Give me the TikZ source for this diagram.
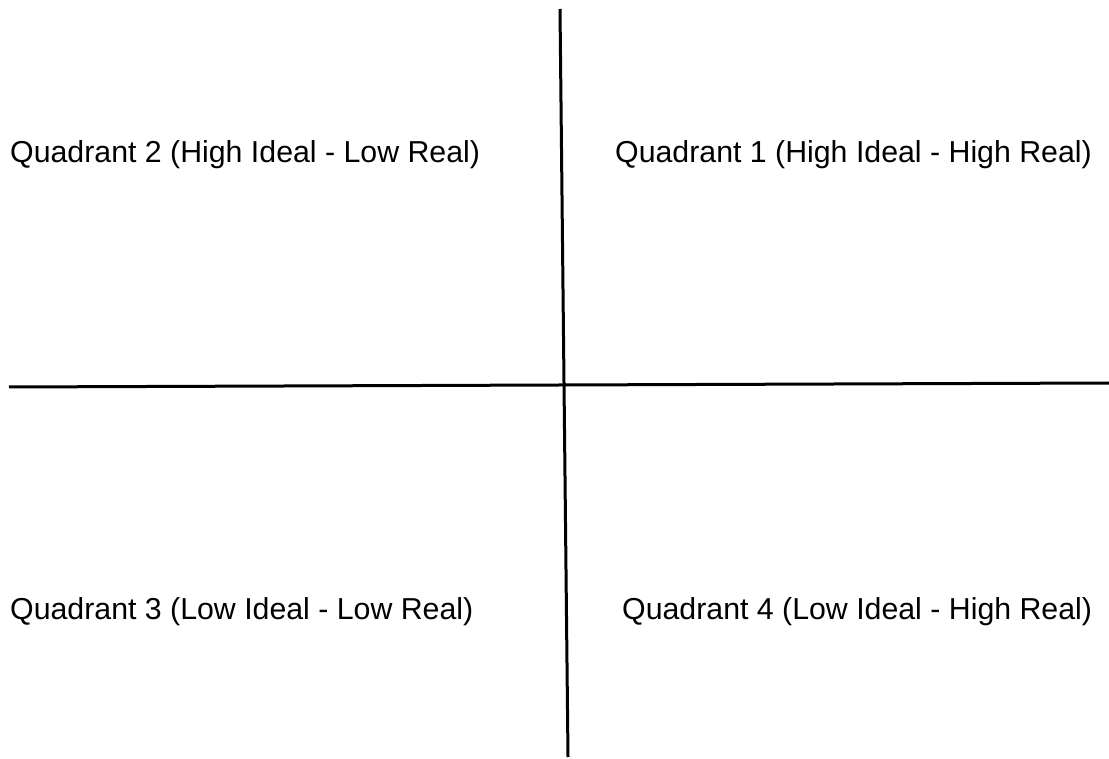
\documentclass[tikz,border=0pt]{standalone}
\usepackage{fontspec}
\setmainfont{Liberation Sans}
\begin{document}
\begin{tikzpicture}[x=1pt,y=-1pt,
  axis/.style={line width=3pt, black},
  qlabel/.style={anchor=west, inner sep=0pt, font=\fontsize{30.3}{35}\selectfont}]
\useasboundingbox (0,0) rectangle (1109,759);
\coordinate (vt) at (560,9);
\coordinate (vb) at (568,757);
\coordinate (hl) at (9,387);
\coordinate (hr) at (1109,383);
\draw[axis] (vt) -- (vb);
\draw[axis] (hl) -- (hr);
\node[qlabel] (q2) at (10,155) {Quadrant 2 (High Ideal - Low Real)};
\node[qlabel] (q1) at (615,155) {Quadrant 1 (High Ideal - High Real)};
\node[qlabel] (q3) at (10,612) {Quadrant 3 (Low Ideal - Low Real)};
\node[qlabel] (q4) at (622,612) {Quadrant 4 (Low Ideal - High Real)};
\end{tikzpicture}
\end{document}
